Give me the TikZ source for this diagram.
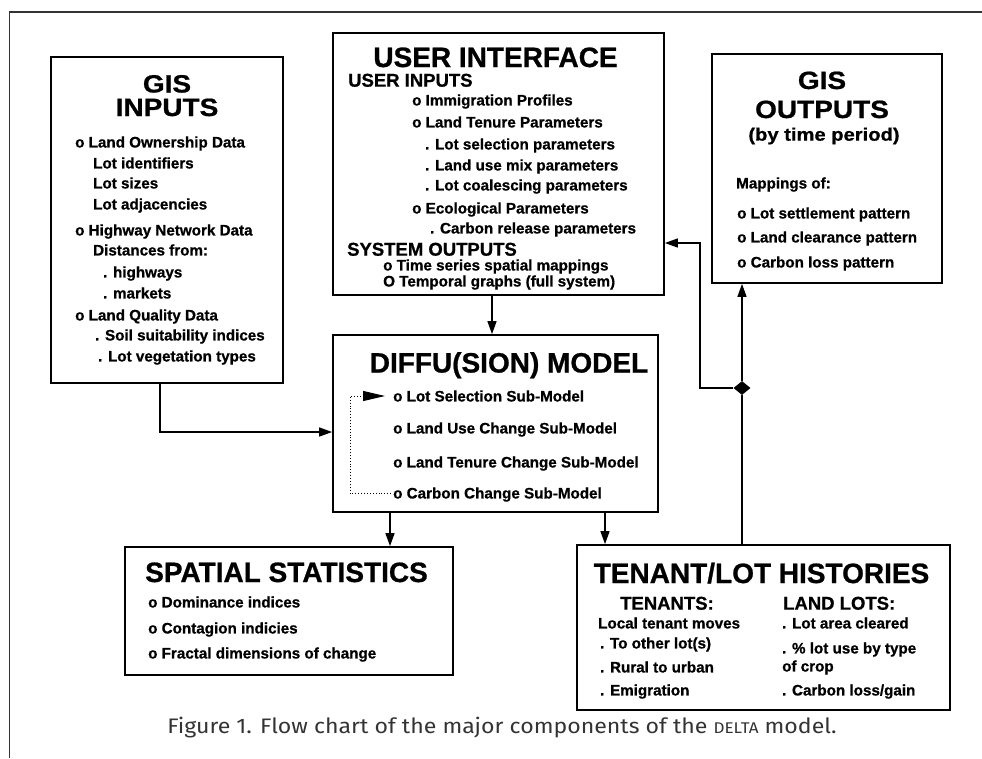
\documentclass[tikz,border=0pt]{standalone}
\usepackage{fontspec}
\usetikzlibrary{arrows.meta,shapes.geometric}
\newfontfamily\hv{Liberation Sans}[BoldFeatures={FakeBold=0.8}]
\newfontfamily\hvw{Liberation Sans}[FakeStretch=1.12,BoldFeatures={FakeBold=0.8}]
\newfontfamily\capfont{Fira Sans}[FakeStretch=1.1]
\begin{document}
\begin{tikzpicture}[x=1pt,y=-1pt,
  box/.style={draw, line width=1.7pt, inner sep=0pt},
  ttl/.style={font=\hv\bfseries\fontsize{28}{30}\selectfont, inner sep=0pt, text height=20pt, text depth=0pt},
  ttlw/.style={font=\hvw\bfseries\fontsize{25}{27}\selectfont, inner sep=0pt, text height=18pt, text depth=0pt},
  subttl/.style={font=\hv\bfseries\fontsize{18.5}{20}\selectfont, inner sep=0pt, text height=13.3pt, text depth=0pt, anchor=west},
  itm/.style={font=\hv\bfseries\fontsize{15.2}{17}\selectfont, inner sep=0pt, text height=10.9pt, text depth=0pt, anchor=west},
  conn/.style={line width=1.4pt},
  arr/.style={conn, -{Triangle[length=13pt,width=9pt]}},
  dia/.style={diamond, fill=black, inner sep=0pt, minimum width=17pt, minimum height=14pt},
  loopline/.style={line width=0.9pt, dotted, -{Triangle[length=22pt,width=10pt]}}
]
\useasboundingbox (0,0) rectangle (982,758);
% outer frame
\coordinate (frTR) at (982,12);
\coordinate (frTL) at (9.5,12);
\coordinate (frBL) at (9.5,758);
\draw[line width=1.4pt, black!80] (frTR) -- (frTL) -- (frBL);

% boxes
\node[box, minimum width=232pt, minimum height=326pt] (gin) at (167,220) {};
\node[box, minimum width=331pt, minimum height=262pt] (ui) at (498.5,164) {};
\node[box, minimum width=230pt, minimum height=229pt] (gout) at (827,168.5) {};
\node[box, minimum width=325pt, minimum height=177pt] (dif) at (495.5,423.5) {};
\node[box, minimum width=328pt, minimum height=128pt] (sst) at (289,611) {};
\node[box, minimum width=373pt, minimum height=165pt] (ten) at (763.5,627.5) {};

% GIS INPUTS
\node[ttlw] (g1) at (167,83.5) {GIS};
\node[ttlw] (g2) at (167,107) {INPUTS};
\node[itm] (g3) at (75,142) {o Land Ownership Data};
\node[itm] (g4) at (93,163) {Lot identifiers};
\node[itm] (g5) at (93,183) {Lot sizes};
\node[itm] (g6) at (93,204) {Lot adjacencies};
\node[itm] (g7) at (75,230) {o Highway Network Data};
\node[itm] (g8) at (93,250) {Distances from:};
\node[itm] (g9) at (103,272) {. highways};
\node[itm] (g10) at (103,293) {. markets};
\node[itm] (g11) at (75,315) {o Land Quality Data};
\node[itm] (g12) at (95,335) {. Soil suitability indices};
\node[itm] (g13) at (98,356) {. Lot vegetation types};

% USER INTERFACE
\node[ttl] (u1) at (495.5,57) {USER INTERFACE};
\node[subttl] (u2) at (348,80) {USER INPUTS};
\node[itm] (u3) at (412,100) {o Immigration Profiles};
\node[itm] (u4) at (412,122) {o Land Tenure Parameters};
\node[itm] (u5) at (425,144) {. Lot selection parameters};
\node[itm] (u6) at (425,165) {. Land use mix parameters};
\node[itm] (u7) at (425,185) {. Lot coalescing parameters};
\node[itm] (u8) at (412,208) {o Ecological Parameters};
\node[itm] (u9) at (430,228) {. Carbon release parameters};
\node[subttl] (u10) at (347,249) {SYSTEM OUTPUTS};
\node[itm] (u11) at (383,265) {o Time series spatial mappings};
\node[itm] (u12) at (383,281) {O Temporal graphs (full system)};

% GIS OUTPUTS
\node[ttlw] (o1) at (822,80) {GIS};
\node[ttlw] (o2) at (822,109) {OUTPUTS};
\node[font=\hvw\bfseries\fontsize{18}{20}\selectfont, inner sep=0pt] (o3) at (824,136) {(by time period)};
\node[itm] (o4) at (736,183) {Mappings of:};
\node[itm] (o5) at (737,213) {o Lot settlement pattern};
\node[itm] (o6) at (737,237) {o Land clearance pattern};
\node[itm] (o7) at (737,262) {o Carbon loss pattern};

% DIFFUSION MODEL
\node[ttl] (d0) at (509,362.5) {DIFFU(SION) MODEL};
\node[itm] (d1) at (393,396) {o Lot Selection Sub-Model};
\node[itm] (d2) at (393,428) {o Land Use Change Sub-Model};
\node[itm] (d3) at (393,462) {o Land Tenure Change Sub-Model};
\node[itm] (d4) at (393,493) {o Carbon Change Sub-Model};

% SPATIAL STATISTICS
\node[ttl] (s0) at (286.5,572) {SPATIAL STATISTICS};
\node[itm] (s1) at (148,602) {o Dominance indices};
\node[itm] (s2) at (148,628) {o Contagion indicies};
\node[itm] (s3) at (148,653) {o Fractal dimensions of change};

% TENANT/LOT HISTORIES
\node[ttl] (t0) at (761.5,573) {TENANT/LOT HISTORIES};
\node[subttl] (t1) at (620,603) {TENANTS:};
\node[subttl] (t2) at (783,603) {LAND LOTS:};
\node[itm] (t3) at (598,623) {Local tenant moves};
\node[itm] (t4) at (600,643) {. To other lot(s)};
\node[itm] (t5) at (600,667) {. Rural to urban};
\node[itm] (t6) at (600,690) {. Emigration};
\node[itm] (t7) at (782,623) {. Lot area cleared};
\node[itm] (t8) at (782,648) {. \% lot use by type};
\node[itm] (t9) at (782,666) {of crop};
\node[itm] (t10) at (782,690) {. Carbon loss/gain};

% caption
\node[font=\capfont\fontsize{21}{23}\selectfont, text=black!80, inner sep=0pt] (cap) at (502,728)
  {Figure 1. Flow chart of the major components of the {\fontsize{15.5}{17}\selectfont DELTA} model.};

% connectors
\draw[arr] ([xshift=-6.5pt]ui.south) -- ([xshift=-6.5pt]ui.south |- dif.north);
\draw[arr] ([xshift=-7pt]gin.south) |- ([yshift=-8.5pt]dif.west);
\draw[arr] ([xshift=-105.5pt]dif.south) -- ([xshift=-105.5pt]dif.south |- sst.north);
\draw[arr] ([xshift=109.5pt]dif.south) -- ([xshift=109.5pt]dif.south |- ten.north);
\node[dia] (jn) at (742,388) {};
\coordinate (bend) at (700,243);
\draw[conn] ([xshift=-21.5pt]ten.north) -- (jn.south);
\draw[arr] (jn.north) -- (jn |- gout.south);
\draw[arr] (jn.west) -| (bend) -- (bend -| ui.east);
\draw[loopline] ([xshift=-2pt]d4.west) -- ++(-41,0) |- ([xshift=-8pt]d1.west);
\end{tikzpicture}
\end{document}
